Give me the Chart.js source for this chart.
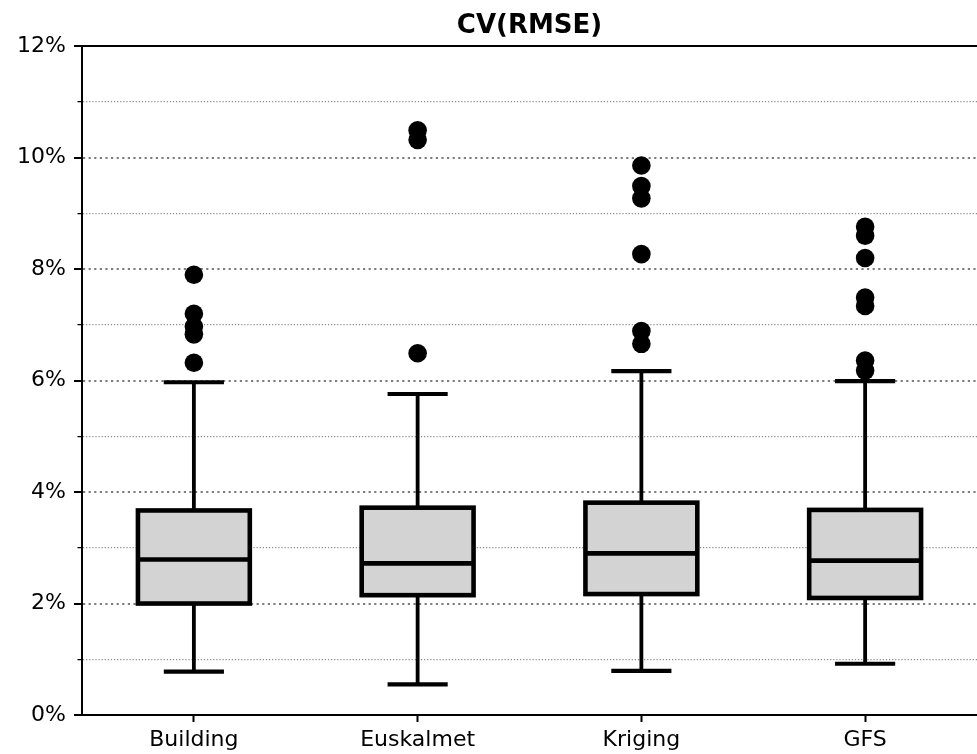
<!DOCTYPE html>
<html>
<head>
<meta charset="utf-8">
<title>CV(RMSE)</title>
<script src="https://cdn.jsdelivr.net/npm/chart.js@4/dist/chart.umd.min.js"></script>
<style>
  html, body { margin: 0; padding: 0; background: #ffffff; }
  #wrap { width: 977px; height: 754px; }
</style>
</head>
<body>
<div id="wrap"><canvas id="chart" width="977" height="754"></canvas></div>
<script>
// Categories and five-number summaries (values in %)
const categories = ['Building', 'Euskalmet', 'Kriging', 'GFS'];
const whiskerLow  = [0.78, 0.55, 0.79, 0.92];
const quartile1   = [2.00, 2.15, 2.17, 2.10];
const medians     = [2.79, 2.72, 2.90, 2.77];
const quartile3   = [3.67, 3.72, 3.81, 3.68];
const whiskerHigh = [5.97, 5.76, 6.17, 5.99];

// Outliers beyond the whiskers, one list per category
const outliersBuilding  = [6.32, 6.83, 6.97, 7.20, 7.90];
const outliersEuskalmet = [6.49, 10.32, 10.49];
const outliersKriging   = [6.66, 6.89, 8.27, 9.27, 9.49, 9.86];
const outliersGFS       = [6.18, 6.36, 7.34, 7.49, 8.20, 8.60, 8.76];

// Y axis ticks: labelled every 2 %, minor lines at odd values
const yTickLabels = ['0%', '', '2%', '', '4%', '', '6%', '', '8%', '', '10%', '', '12%'];
const yMin = 0, yMax = 12;

const outlierLists = [outliersBuilding, outliersEuskalmet, outliersKriging, outliersGFS];
const outlierPoints = [];
outlierLists.forEach((list, i) => list.forEach(v => outlierPoints.push({ x: categories[i], y: v })));

Chart.defaults.font.family = "'DejaVu Sans', sans-serif";
Chart.defaults.color = '#000000';

// Draws whiskers, caps, box outline and median on top of the filled boxes
const boxWhiskers = {
  id: 'boxWhiskers',
  afterDatasetDraw(chart, args) {
    if (args.index !== 0) return;
    const { ctx } = chart;
    const xs = chart.scales.x, ys = chart.scales.y;
    args.meta.data.forEach((bar, i) => {
      const cx = xs.getPixelForValue(i);
      const half = bar.width / 2;
      const pLow = ys.getPixelForValue(whiskerLow[i]);
      const pQ1 = ys.getPixelForValue(quartile1[i]);
      const pMed = ys.getPixelForValue(medians[i]);
      const pQ3 = ys.getPixelForValue(quartile3[i]);
      const pHigh = ys.getPixelForValue(whiskerHigh[i]);
      ctx.save();
      ctx.strokeStyle = '#000000';
      // whiskers
      ctx.lineWidth = 3.8;
      ctx.lineCap = 'butt';
      ctx.beginPath();
      ctx.moveTo(cx, pQ3); ctx.lineTo(cx, pHigh);
      ctx.moveTo(cx, pQ1); ctx.lineTo(cx, pLow);
      ctx.stroke();
      // caps
      ctx.lineWidth = 4.2;
      ctx.lineCap = 'square';
      ctx.beginPath();
      ctx.moveTo(cx - half / 2, pHigh); ctx.lineTo(cx + half / 2, pHigh);
      ctx.moveTo(cx - half / 2, pLow); ctx.lineTo(cx + half / 2, pLow);
      ctx.stroke();
      // box outline
      ctx.lineCap = 'butt';
      ctx.lineJoin = 'miter';
      ctx.lineWidth = 4.6;
      ctx.strokeRect(cx - half, pQ3, half * 2, pQ1 - pQ3);
      // median
      ctx.beginPath();
      ctx.moveTo(cx - half, pMed); ctx.lineTo(cx + half, pMed);
      ctx.stroke();
      ctx.restore();
    });
  }
};

const isMajor = c => c.tick && Math.round(c.tick.value) % 2 === 0;
const isEdge = c => c.tick && (c.tick.value === yMax || c.tick.value === yMin);

new Chart(document.getElementById('chart'), {
  type: 'bar',
  data: {
    labels: categories,
    datasets: [
      {
        label: 'IQR',
        data: quartile1.map((q, i) => [q, quartile3[i]]),
        backgroundColor: '#d3d3d3',
        borderWidth: 0,
        barPercentage: 0.5,
        categoryPercentage: 1.0,
        order: 2
      },
      {
        type: 'line',
        label: 'Outliers',
        data: outlierPoints,
        showLine: false,
        pointRadius: 9.3,
        pointHoverRadius: 9.3,
        pointBackgroundColor: '#000000',
        pointBorderWidth: 0,
        pointBorderColor: '#000000',
        order: 1
      }
    ]
  },
  options: {
    responsive: false,
    animation: false,
    devicePixelRatio: 1,
    layout: { autoPadding: false, padding: { left: 0, right: -2, top: 0, bottom: 0 } },
    plugins: {
      legend: { display: false },
      tooltip: { enabled: false },
      title: {
        display: true,
        fullSize: false,
        text: 'CV(RMSE)',
        color: '#000000',
        font: { size: 26, weight: 'bold' },
        padding: { top: 11, bottom: 4 }
      }
    },
    scales: {
      x: {
        type: 'category',
        offset: true,
        grid: {
          offset: false,
          drawOnChartArea: false,
          drawTicks: true,
          tickLength: 7,
          tickWidth: 2,
          tickColor: '#000000'
        },
        border: { display: true, color: '#000000', width: 2 },
        ticks: { font: { size: 22 }, color: '#000000', padding: 5, maxRotation: 0 },
        afterFit(scale) { scale.height = 39; }
      },
      y: {
        type: 'linear',
        min: yMin,
        max: yMax,
        grid: {
          color: c => isEdge(c) ? '#000000' : (isMajor(c) ? '#7c7c7c' : '#8a8a8a'),
          lineWidth: c => isEdge(c) ? 2 : (isMajor(c) ? 2 : 1.2),
          tickLength: 8,
          tickColor: '#000000',
          tickWidth: c => isMajor(c) ? 2 : 1.3,
          tickBorderDash: c => isMajor(c) ? [] : [0, 3.5, 4.5, 0]
        },
        border: {
          display: true,
          color: '#000000',
          width: 2,
          dash: c => (!c.tick || isEdge(c)) ? [] : (isMajor(c) ? [2.2, 3.4] : [1.2, 1.9])
        },
        ticks: {
          stepSize: 1,
          font: { size: 22 },
          color: '#000000',
          padding: 8,
          callback: (v) => yTickLabels[Math.round(v - yMin)]
        },
        afterFit(scale) { scale.width = 82; }
      }
    }
  },
  plugins: [boxWhiskers]
});
</script>
</body>
</html>
